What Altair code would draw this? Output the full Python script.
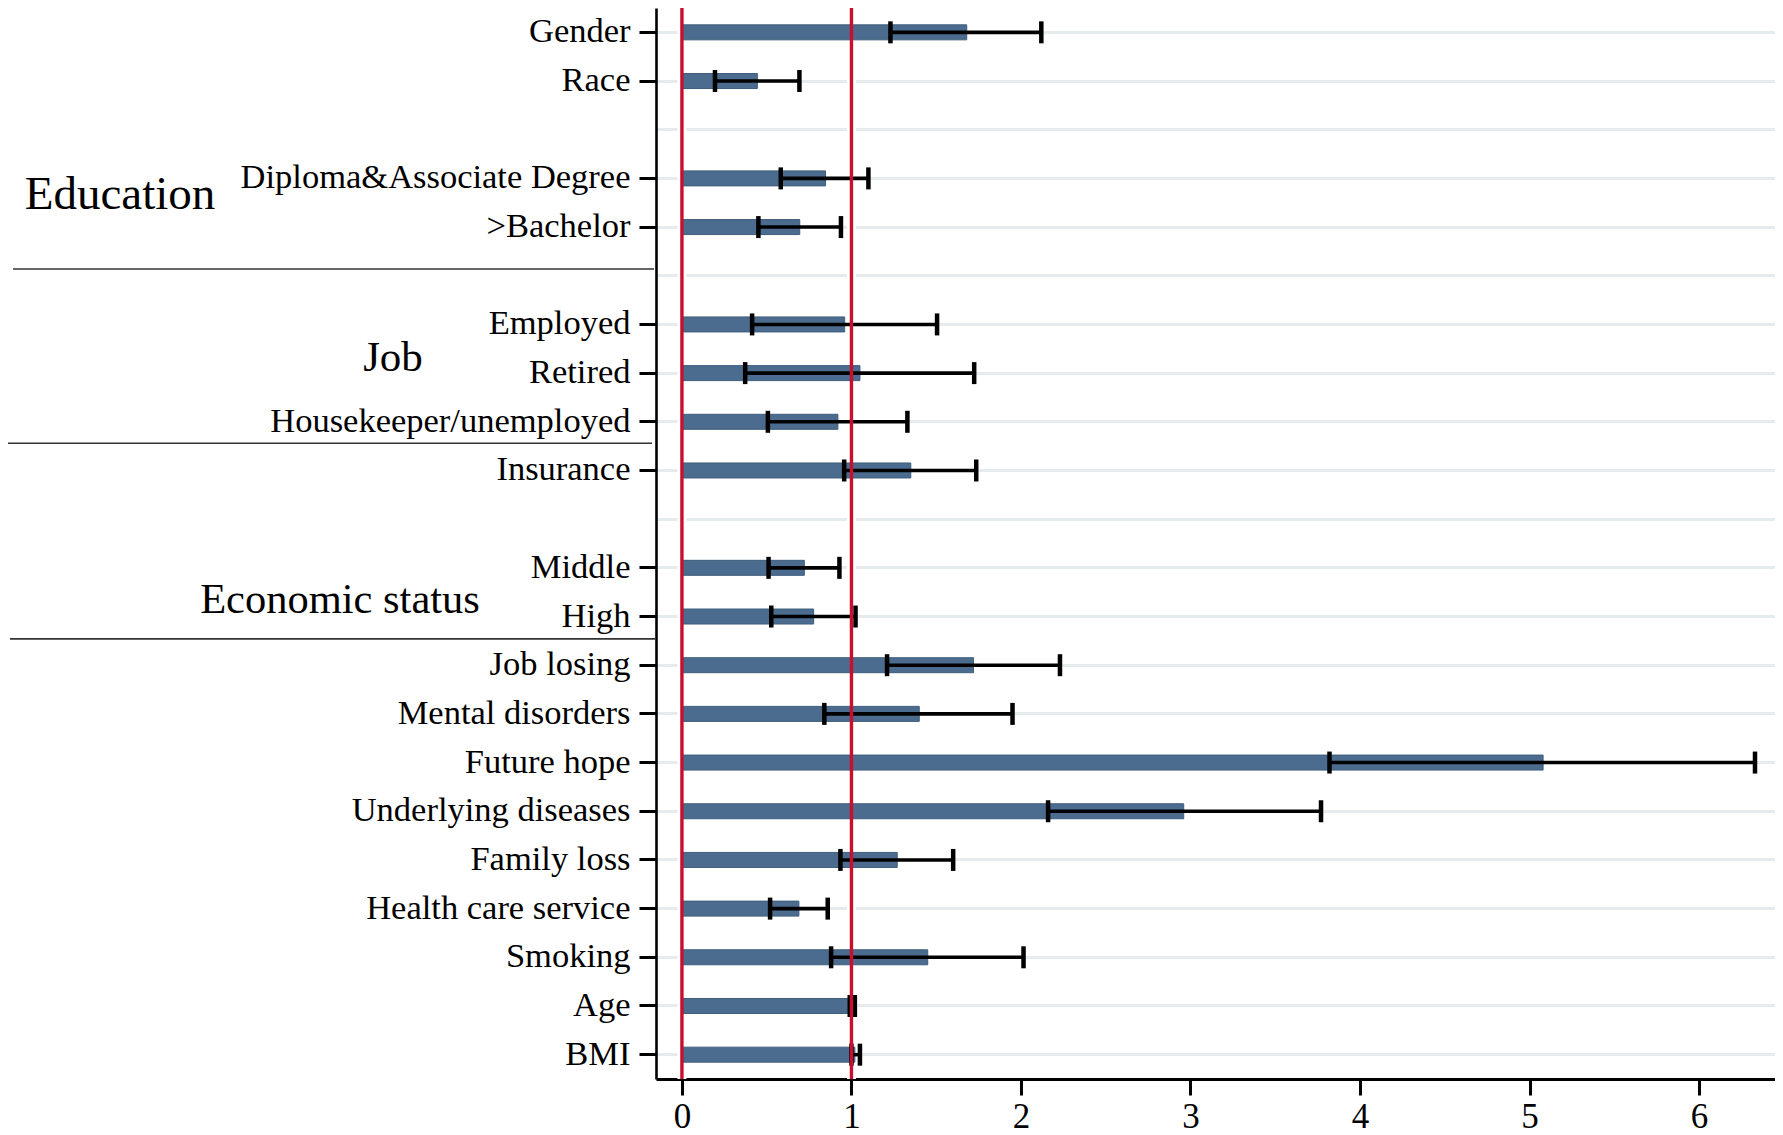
import altair as alt
import pandas as pd

# ---- data ----
row_order = ["Gender", "Race", "blank1", "Diploma&Associate Degree", ">Bachelor", "blank2",
             "Employed", "Retired", "Housekeeper/unemployed", "Insurance", "blank3",
             "Middle", "High", "Job losing", "Mental disorders", "Future hope",
             "Underlying diseases", "Family loss", "Health care service", "Smoking", "Age", "BMI"]

items = ["Gender", "Race", "Diploma&Associate Degree", ">Bachelor", "Employed", "Retired",
         "Housekeeper/unemployed", "Insurance", "Middle", "High", "Job losing",
         "Mental disorders", "Future hope", "Underlying diseases", "Family loss",
         "Health care service", "Smoking", "Age", "BMI"]
odds = [1.68, 0.445, 0.847, 0.695, 0.96, 1.05, 0.92, 1.35, 0.722, 0.777, 1.72,
        1.40, 5.08, 2.96, 1.27, 0.69, 1.45, 1.00, 1.02]
ci_low = [1.23, 0.195, 0.583, 0.451, 0.414, 0.373, 0.507, 0.957, 0.511, 0.527, 1.21,
          0.84, 3.82, 2.16, 0.935, 0.52, 0.88, 0.99, 1.00]
ci_high = [2.12, 0.693, 1.10, 0.938, 1.505, 1.724, 1.33, 1.736, 0.929, 1.024, 2.23,
           1.95, 6.33, 3.77, 1.60, 0.86, 2.015, 1.02, 1.05]

ref_values = [0, 1]
x_ticks = [0, 1, 2, 3, 4, 5, 6]

df = pd.DataFrame({"item": items, "odds": odds, "low": ci_low, "high": ci_high})
ref_df = pd.DataFrame({"ref": ref_values})

FONT = "Liberation Serif"
BAR = "#4B6C8E"
RED = "#C8102E"

x_scale = alt.Scale(domain=[-0.153, 6.448], nice=False, zero=False)
y_scale = alt.Scale(domain=row_order, paddingInner=0, paddingOuter=0)

y_axis = alt.Axis(
    title=None, labelFont=FONT, labelFontSize=34.5, labelColor="black", labelLimit=0,
    labelPadding=9, tickSize=17, tickWidth=3, domainWidth=2.6, domainColor="black",
    tickColor={"condition": {"test": "indexof(datum.value, 'blank') == 0", "value": "transparent"},
               "value": "black"},
    labelExpr="indexof(datum.value, 'blank') == 0 ? '' : datum.value",
    grid=True, gridColor="#E6EBEE", gridWidth=3, bandPosition=0.5,
)
x_axis = alt.Axis(
    title=None, values=x_ticks, format="d", labelFont=FONT, labelFontSize=35,
    labelColor="black", labelPadding=4, tickSize=16, tickWidth=3, domainWidth=2.8,
    domainColor="black", tickColor="black", grid=False,
)

base = alt.Chart(df)

halo = alt.Chart(ref_df).mark_rule(color="white", strokeWidth=9).encode(
    x=alt.X("ref:Q", scale=x_scale, axis=x_axis)
)

bars = base.mark_bar(size=15, color=BAR, stroke="#3F5D7C", strokeWidth=1, opacity=1).encode(
    x=alt.X("odds:Q", scale=x_scale, axis=x_axis),
    x2=alt.X2(datum=0),
    y=alt.Y("item:N", scale=y_scale, axis=y_axis, sort=row_order),
)

err_line = base.mark_rule(color="black", strokeWidth=3.6, opacity=1).encode(
    x=alt.X("low:Q", scale=x_scale), x2="high:Q",
    y=alt.Y("item:N", scale=y_scale, sort=row_order),
)
cap_low = base.mark_tick(color="black", size=22, thickness=4.5, opacity=1).encode(
    x=alt.X("low:Q", scale=x_scale), y=alt.Y("item:N", scale=y_scale, sort=row_order)
)
cap_high = base.mark_tick(color="black", size=22, thickness=4.5, opacity=1).encode(
    x=alt.X("high:Q", scale=x_scale), y=alt.Y("item:N", scale=y_scale, sort=row_order)
)

red = alt.Chart(ref_df).mark_rule(color=RED, strokeWidth=3.4, opacity=1).encode(
    x=alt.X("ref:Q", scale=x_scale)
)

# ---- group annotations (left of the axis) ----
groups = ["Education", "Job", "Economic status"]
group_anchor = ["Diploma&Associate Degree", "Retired", "High"]
sep_anchor = ["blank2", "Housekeeper/unemployed", "High"]

def group_label(i, band_pos, xpix, size):
    d = pd.DataFrame({"row": [group_anchor[i]], "txt": [groups[i]]})
    return alt.Chart(d).mark_text(font=FONT, fontSize=size, color="black",
                                  align="center", baseline="middle").encode(
        y=alt.Y("row:N", scale=y_scale, bandPosition=band_pos),
        x=alt.value(xpix), text="txt:N")

def separator(i, band_pos, x0, x1):
    d = pd.DataFrame({"row": [sep_anchor[i]]})
    return alt.Chart(d).mark_rule(color="#333333", strokeWidth=1.6).encode(
        y=alt.Y("row:N", scale=y_scale, bandPosition=band_pos),
        x=alt.value(x0), x2=alt.value(x1))

annot = [
    group_label(0, 0.84, -536, 47),
    group_label(1, 0.19, -263, 43),
    group_label(2, 0.17, -316, 42.5),
    separator(0, 0.36, -643, -2),
    separator(1, 0.94, -650, -4),
    separator(2, 0.96, -646, 0),
]

chart = alt.layer(halo, bars, err_line, cap_low, cap_high, red, *annot).properties(
    width=1119, height=1071,
    padding={"left": 648, "top": 0, "right": 0, "bottom": 56},
    autosize=alt.AutoSizeParams(type="none"),
    background="white",
).configure_view(stroke=None)

chart.save("out.html", embed_options={"renderer": "svg", "actions": False})
